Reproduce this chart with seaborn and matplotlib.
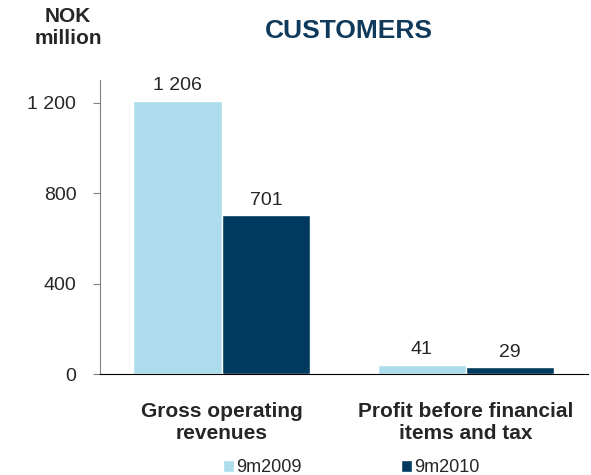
import matplotlib
matplotlib.use("Agg")
import matplotlib.pyplot as plt
import pandas as pd
import seaborn as sns
from matplotlib.patches import Patch

categories = ["Gross operating\nrevenues", "Profit before financial\nitems and tax"]
periods = ["9m2009", "9m2010"]
values_2009 = [1206, 41]
values_2010 = [701, 29]
y_ticks = [0, 400, 800, 1200]
y_tick_labels = ["0", "400", "800", "1 200"]

COLORS = {"9m2009": "#ADDCEC", "9m2010": "#003A5E"}

sns.set_style("white")
plt.rcParams["font.family"] = ["Liberation Sans", "DejaVu Sans"]

df = pd.DataFrame({
    "category": categories * 2,
    "period": [periods[0]] * 2 + [periods[1]] * 2,
    "value": values_2009 + values_2010,
})

fig = plt.figure(figsize=(5.91, 4.75), dpi=100)
ax = fig.add_axes([0.169, 0.2126, 0.826, 0.619])

sns.barplot(data=df, x="category", y="value", hue="period", order=categories,
            hue_order=periods, palette=COLORS, width=0.725, saturation=1,
            legend=False, ax=ax)

for cont in ax.containers:
    labels = [f"{v:,.0f}".replace(",", " ") for v in cont.datavalues]
    ax.bar_label(cont, labels=labels, padding=5, fontsize=14)

ax.set_xlim(-0.5, 1.5)
ax.set_ylim(0, 1300)
ax.set_yticks(y_ticks)
ax.set_yticklabels(y_tick_labels, fontsize=14)
ax.set_xlabel("")
ax.set_ylabel("")

ax.set_xticks([0, 1])
ax.set_xticklabels(categories, fontsize=15, fontweight="bold", linespacing=1.2)
ax.tick_params(axis="x", length=0, pad=20)
ax.set_xticks([-0.5, 0.5, 1.5], minor=True)
ax.tick_params(axis="x", which="minor", length=6, color="#808080", direction="out")
ax.tick_params(axis="y", length=5, color="#808080", direction="out", left=True, pad=12)

for s in ["top", "right"]:
    ax.spines[s].set_visible(False)
ax.spines["left"].set_color("#808080")
ax.spines["bottom"].set_color("#000000")

fig.text(0.115, 0.943, "NOK\nmillion", ha="center", va="center",
         fontsize=15, fontweight="bold", linespacing=1.2)
fig.text(0.591, 0.935, "CUSTOMERS", ha="center", va="center",
         fontsize=19, fontweight="bold", color="#0F3A5C")

handles = [Patch(facecolor=COLORS[p], label=p) for p in periods]
fig.legend(handles=handles, loc="center", bbox_to_anchor=(0.594, 0.015),
           ncol=2, frameon=False, fontsize=13, handlelength=0.6,
           handleheight=0.6, handletextpad=0.12, columnspacing=5.5)

fig.savefig("out.png", dpi=100)
